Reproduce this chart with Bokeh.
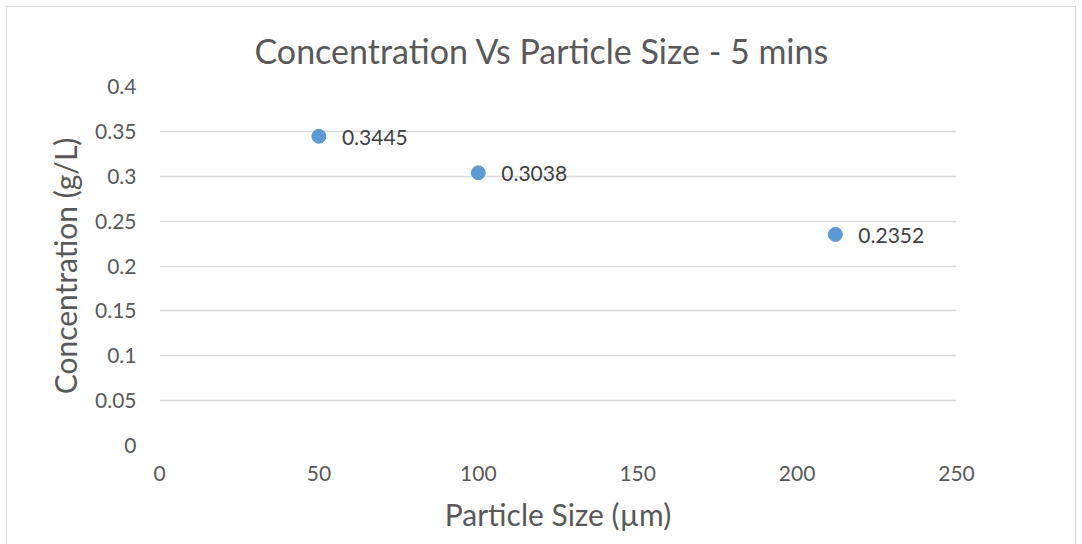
from bokeh.plotting import figure
from bokeh.models import Range1d, FixedTicker, ColumnDataSource, LabelSet, Title
from bokeh.embed import file_html
from bokeh.resources import INLINE
from bokeh.core.properties import value

# Data
particle_size = [50, 100, 212]
concentration = [0.3445, 0.3038, 0.2352]
point_labels = ["0.3445", "0.3038", "0.2352"]
x_ticks = [0, 50, 100, 150, 200, 250]
y_ticks = [0, 0.05, 0.1, 0.15, 0.2, 0.25, 0.3, 0.35, 0.4]
title_text = "Concentration Vs Particle Size - 5 mins"
x_label = "Particle Size (µm)"
y_label = "Concentration (g/L)"

FONT = "Lato"
W, H = 1070, 541

p = figure(width=W, height=H, output_backend="svg", toolbar_location=None,
           x_range=Range1d(0, 250), y_range=Range1d(0, 0.4),
           min_border_left=152, min_border_right=121,
           min_border_top=79, min_border_bottom=103)
p.styles = {"border": "1.5px solid #d9d9d9", "margin": "6px 0 0 6px"}
p.outline_line_color = None
p.border_fill_color = "white"
p.background_fill_color = "white"
p.title.visible = False

p.xaxis.ticker = FixedTicker(ticks=x_ticks)
p.yaxis.ticker = FixedTicker(ticks=y_ticks)
p.yaxis.major_label_overrides = {t: ("%g" % t) for t in y_ticks}

for ax in (p.xaxis[0], p.yaxis[0]):
    ax.axis_line_color = None
    ax.major_tick_line_color = None
    ax.minor_tick_line_color = None
    ax.major_tick_out = 0
    ax.major_tick_in = 0
    ax.major_label_text_font = FONT
    ax.major_label_text_font_size = "21px"
    ax.major_label_text_color = "#595959"
    ax.axis_label_text_font = FONT
    ax.axis_label_text_font_size = "30px"
    ax.axis_label_text_font_style = "normal"
    ax.axis_label_text_color = "#595959"

p.xaxis.axis_label = x_label
p.yaxis.axis_label = y_label
p.xaxis.major_label_standoff = 20
p.yaxis.major_label_standoff = 23
p.xaxis.axis_label_standoff = 12
p.yaxis.axis_label_standoff = 9

p.xgrid.grid_line_color = None
p.ygrid.grid_line_color = "#d9d9d9"
p.ygrid.grid_line_width = 1.3

src = ColumnDataSource(dict(x=particle_size, y=concentration, t=point_labels))
p.scatter("x", "y", source=src, size=14, fill_color="#5B9BD5", line_color="#5B9BD5")
labels = LabelSet(x="x", y="y", text="t", source=src, x_offset=23, y_offset=-1,
                  text_font=value(FONT), text_font_size="21px", text_color="#404040",
                  text_baseline="middle", text_align="left")
p.add_layout(labels)

p.add_layout(Title(text=title_text, align="left", offset=95, standoff=32,
                   text_font=FONT, text_font_size="34px", text_font_style="normal",
                   text_color="#595959", vertical_align="bottom"), "above")

open("out.html", "w").write(file_html(p, INLINE))
